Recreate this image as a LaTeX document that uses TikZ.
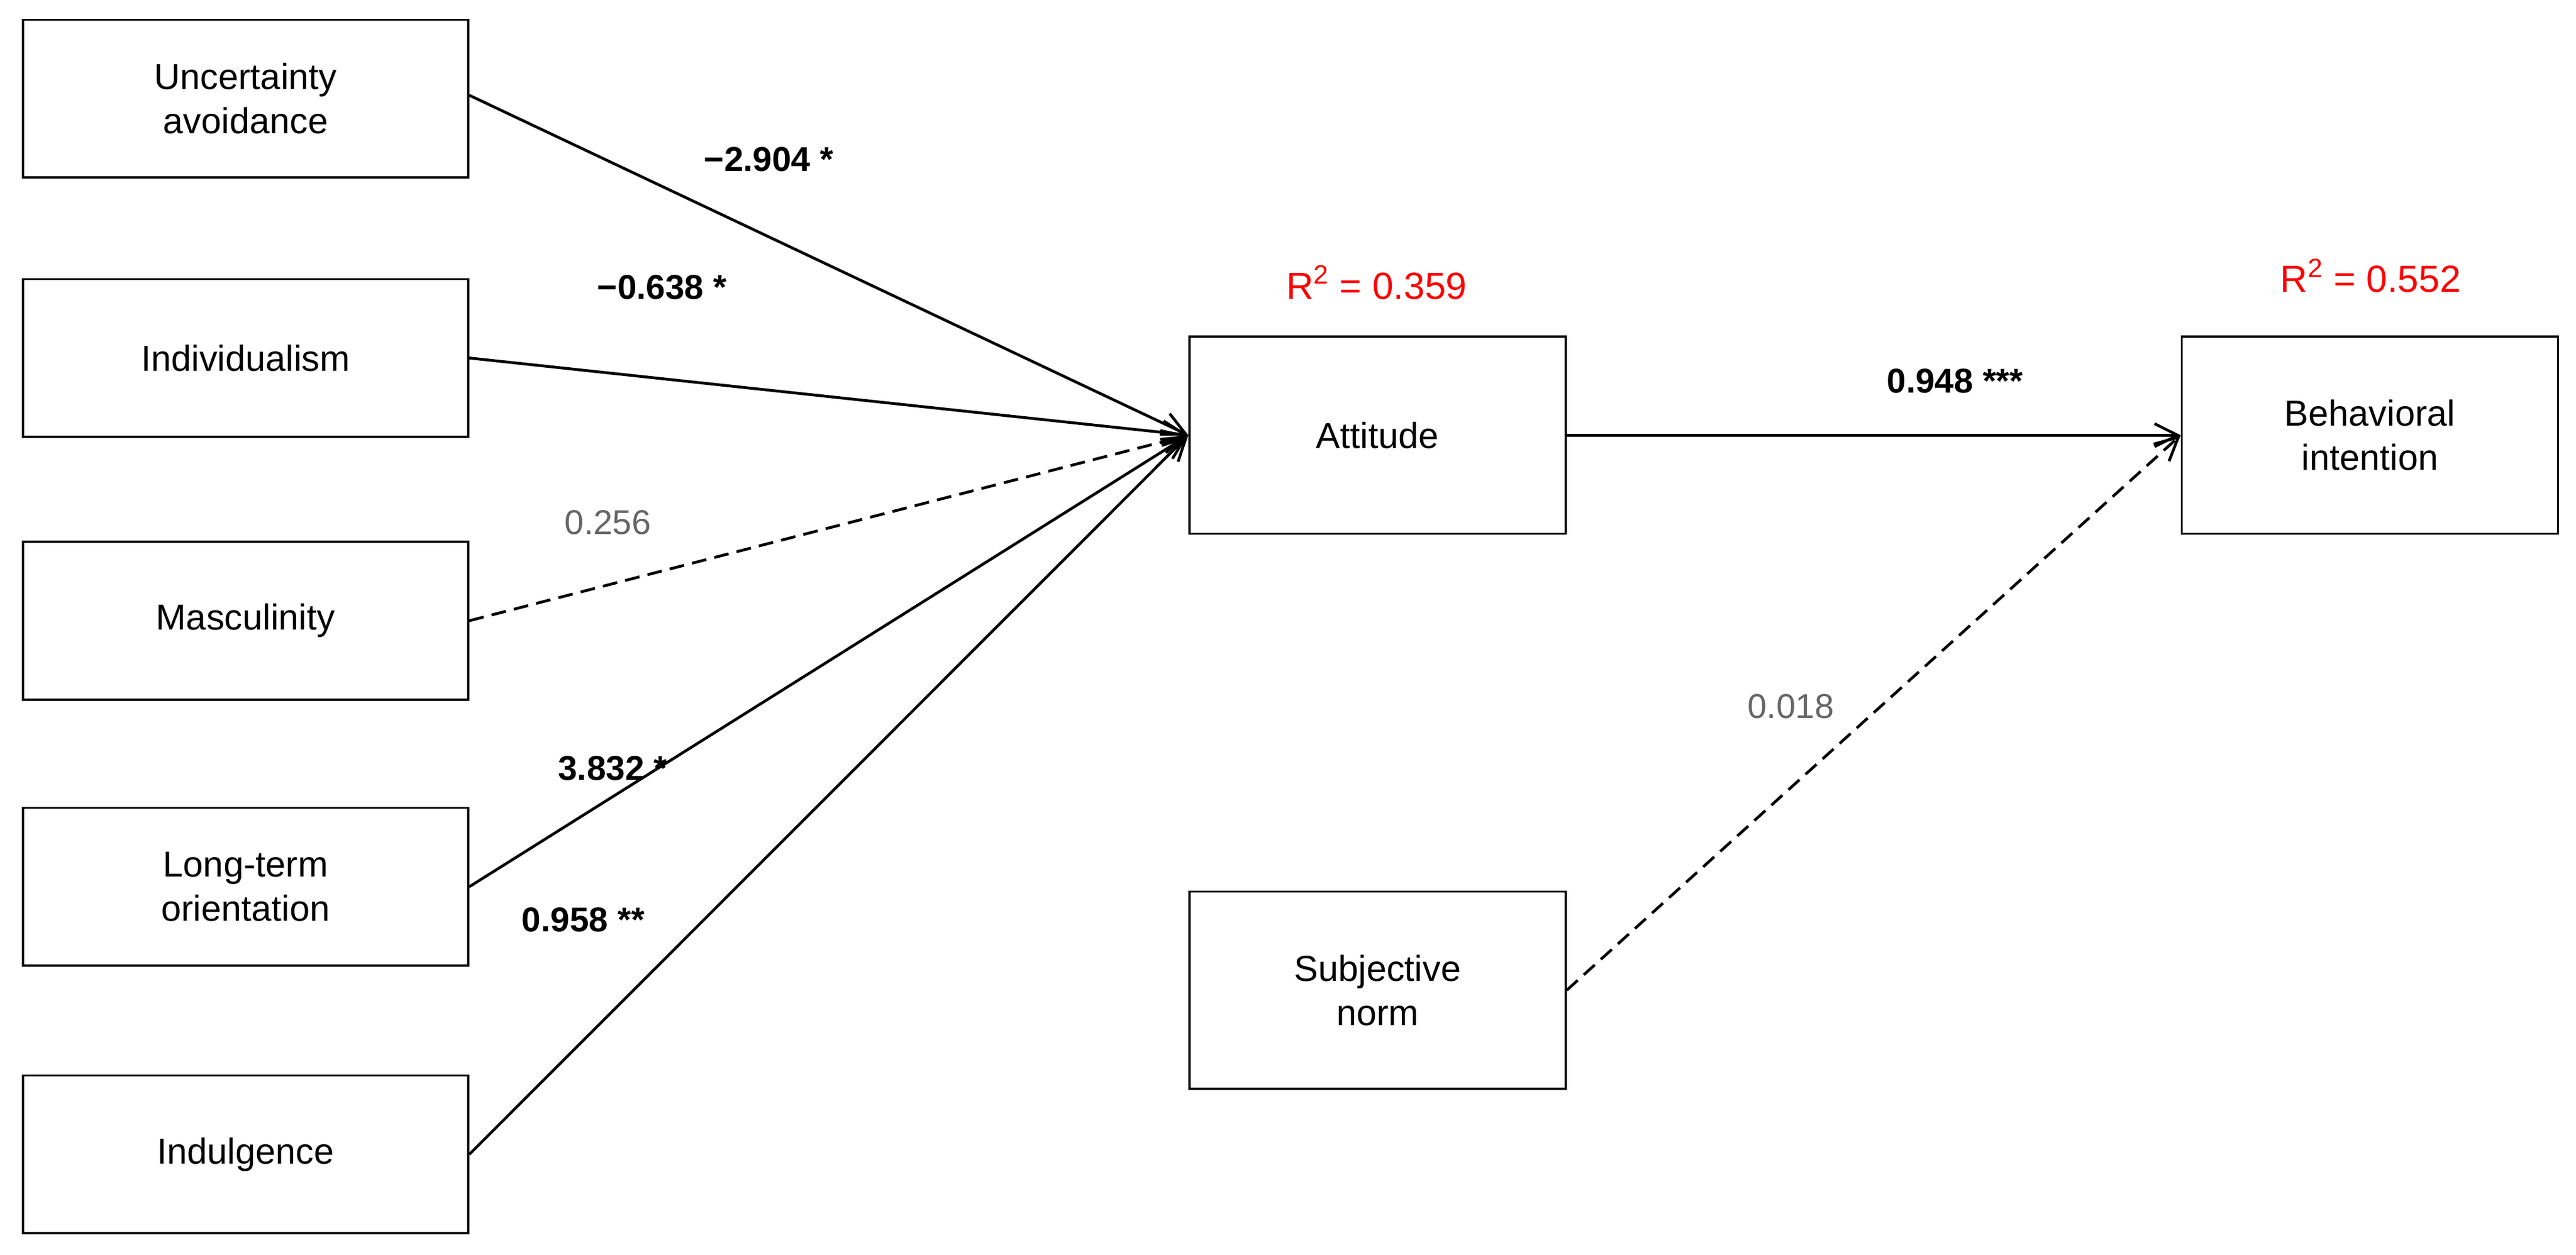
\documentclass[tikz,border=0pt]{standalone}
\usepackage{fontspec}
\setmainfont{Liberation Sans}
\usetikzlibrary{arrows.meta}
\begin{document}
\begin{tikzpicture}[x=1pt,y=-1pt,
 box/.style={draw,line width=1.3pt,minimum width=271pt,minimum height=96pt,align=center,font=\fontsize{22}{27}\selectfont},
 bbox/.style={box,minimum width=229pt,minimum height=120pt},
 arr/.style={line width=1.7pt,-{Straight Barb[length=14pt,width=14pt]}},
 dsh/.style={dash pattern=on 9pt off 5pt},
 lab/.style={font=\fontsize{21}{25}\selectfont\bfseries},
 glab/.style={font=\fontsize{21}{25}\selectfont,text=black!60},
 rlab/.style={font=\fontsize{23}{27}\selectfont,text=red}]
\useasboundingbox (0,0) rectangle (1568,764);
\node[box] (ua) at (149.5,60) {Uncertainty\\avoidance};
\node[box] (ind) at (149.5,218) {Individualism};
\node[box] (mas) at (149.5,378) {Masculinity};
\node[box] (lto) at (149.5,540) {Long-term\\orientation};
\node[box] (indg) at (149.5,703) {Indulgence};
\node[bbox] (att) at (838.5,265) {Attitude};
\node[bbox] (bi) at (1442.5,265) {Behavioral\\intention};
\node[bbox] (sn) at (838.5,603) {Subjective\\norm};
\coordinate (t) at (att.west);
\draw[arr] (ua.east|-0,58) -- (t);
\draw[arr] (ind.east) -- (t);
\draw[arr,dsh] (mas.east) -- (t);
\draw[arr] (lto.east) -- (t);
\draw[arr] (indg.east) -- (t);
\draw[arr] (att.east) -- (bi.west);
\draw[arr,dsh] (sn.east) -- (bi.west);
\node[lab] at (468,97) {−2.904 *};
\node[lab] at (403,175) {−0.638 *};
\node[glab] at (370,318) {0.256};
\node[lab] at (373,468) {3.832 *};
\node[lab] at (355,560) {0.958 **};
\node[lab] at (1190,232) {0.948 ***};
\node[glab] at (1090,430) {0.018};
\node[rlab] at (838,172) {R\textsuperscript{2} = 0.359};
\node[rlab] at (1443,168) {R\textsuperscript{2} = 0.552};
\end{tikzpicture}
\end{document}
